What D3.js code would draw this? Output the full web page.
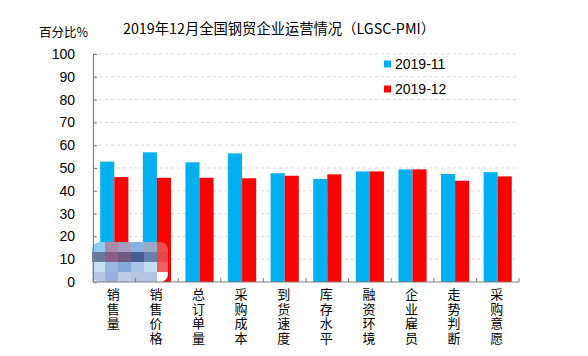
<!DOCTYPE html>
<html><head><meta charset="utf-8">
<script src="https://cdn.jsdelivr.net/npm/d3@7"></script>
<style>
html,body{margin:0;padding:0;background:#fff;}
svg{display:block;font-family:"Noto Sans CJK SC","Noto Sans",sans-serif;}
.vt{writing-mode:vertical-rl;text-orientation:upright;}
</style></head>
<body><svg id="c" width="588" height="356"></svg>
<script>
const categories = ["销售量","销售价格","总订单量","采购成本","到货速度","库存水平","融资环境","企业雇员","走势判断","采购意愿"];
const seriesNames = ["2019-11","2019-12"];
const values2019_11 = [52.8, 56.9, 52.5, 56.4, 47.7, 45.2, 48.5, 49.4, 47.4, 48.2];
const values2019_12 = [46.0, 45.7, 45.7, 45.5, 46.6, 47.2, 48.5, 49.4, 44.4, 46.3];
const yTicks = [0,10,20,30,40,50,60,70,80,90,100];
const colors = ["#00b0f0","#ff0000"];
const title = "2019年12月全国钢贸企业运营情况（LGSC-PMI）";
const yLabel = "百分比%";

const svg = d3.select("#c");
const L = 93, R = 519, T = 54, B = 282;
const x = d3.scaleBand().domain(categories).range([L, R]).paddingInner(0.34).paddingOuter(0.17);
const xs = d3.scaleBand().domain(seriesNames).range([0, x.bandwidth()]);
const y = d3.scaleLinear().domain([0, 100]).range([B, T]);

// gridlines
svg.append("g").selectAll("line").data(yTicks.filter(d => d > 0)).join("line")
  .attr("x1", L).attr("x2", R).attr("y1", d => y(d)).attr("y2", d => y(d))
  .attr("stroke", "#d9d9d9").attr("stroke-width", 1).attr("stroke-dasharray", "3,3");

// bars
const data = categories.map((c, i) => ({c, vals: [values2019_11[i], values2019_12[i]]}));
const grp = svg.append("g").selectAll("g").data(data).join("g")
  .attr("transform", d => `translate(${x(d.c)},0)`);
grp.selectAll("rect").data(d => d.vals.map((v, j) => ({s: seriesNames[j], v, j}))).join("rect")
  .attr("x", d => xs(d.s)).attr("width", xs.bandwidth())
  .attr("y", d => y(d.v)).attr("height", d => y(0) - y(d.v))
  .attr("fill", d => colors[d.j]);

// mosaic watermark (decorative)
const mosaic = [
  ["#8ecdf0","#a98aa8","#a79ac0","#86b3e0","#98aac4","#e85050"],
  ["#6a7a9a","#8a5e8a","#6e5a80","#445e90","#6880b0","#e84848"],
  ["#c8e0f4","#9ab8e0","#84a8d8","#a8c4e4","#c4e0f4","#f06060"],
  ["#b8c8e4","#98b0e0","#c0cce4","#b8c4e0","#b0c4e4","#ffffff"]
];
const defs = svg.append("defs");
defs.append("clipPath").attr("id","mc").append("rect")
  .attr("x",92).attr("y",242).attr("width",76).attr("height",40).attr("rx",8);
const mg = svg.append("g").attr("clip-path","url(#mc)");
mosaic.forEach((row, r) => row.forEach((col, k) => {
  mg.append("rect").attr("x", 92 + k*13).attr("y", 242 + r*10).attr("width", 13).attr("height", 10).attr("fill", col);
}));

// y axis
const yAxis = svg.append("g").attr("transform", `translate(${L},0)`)
  .call(d3.axisLeft(y).tickValues(yTicks).tickSize(-4).tickPadding(18));
yAxis.select(".domain").attr("stroke", "#7f7f7f").attr("stroke-width", 1.2);
yAxis.selectAll(".tick line").attr("stroke", "#7f7f7f");
yAxis.selectAll(".tick text").attr("font-size", 14).attr("fill", "#000")
  .attr("font-family", "'Liberation Sans','Noto Sans',sans-serif");

// x axis
svg.append("line").attr("x1", L).attr("x2", R).attr("y1", B).attr("y2", B)
  .attr("stroke", "#7f7f7f").attr("stroke-width", 1.2);
const bounds = d3.range(categories.length + 1).map(i => L + i * x.step());
svg.append("g").selectAll("line").data(bounds).join("line")
  .attr("x1", d => d).attr("x2", d => d).attr("y1", B).attr("y2", B - 4)
  .attr("stroke", "#7f7f7f").attr("stroke-width", 1);

// x labels, vertical
svg.append("g").selectAll("text").data(categories).join("text")
  .attr("class", "vt")
  .attr("x", d => x(d) + x.bandwidth()/2 - 1)
  .attr("y", 288)
  .attr("font-size", 13).attr("letter-spacing", 1.5).attr("fill", "#000")
  .text(d => d);

// title
svg.append("text").attr("x", 279).attr("y", 34).attr("text-anchor", "middle")
  .attr("font-size", 14.3).attr("fill", "#000").text(title);
svg.append("text").attr("x", 39).attr("y", 37).attr("font-size", 12.5).attr("fill", "#000").text(yLabel);

// legend
const lg = svg.append("g").selectAll("g").data(seriesNames).join("g")
  .attr("transform", (d, i) => `translate(384,${64 + i*25})`);
lg.append("rect").attr("x", 0).attr("y", -3.5).attr("width", 7).attr("height", 7)
  .attr("fill", (d, i) => colors[i]);
lg.append("text").attr("x", 11).attr("y", 5).attr("font-size", 14).attr("fill", "#000")
  .attr("font-family", "'Liberation Sans','Noto Sans',sans-serif").text(d => d);
</script></body></html>
